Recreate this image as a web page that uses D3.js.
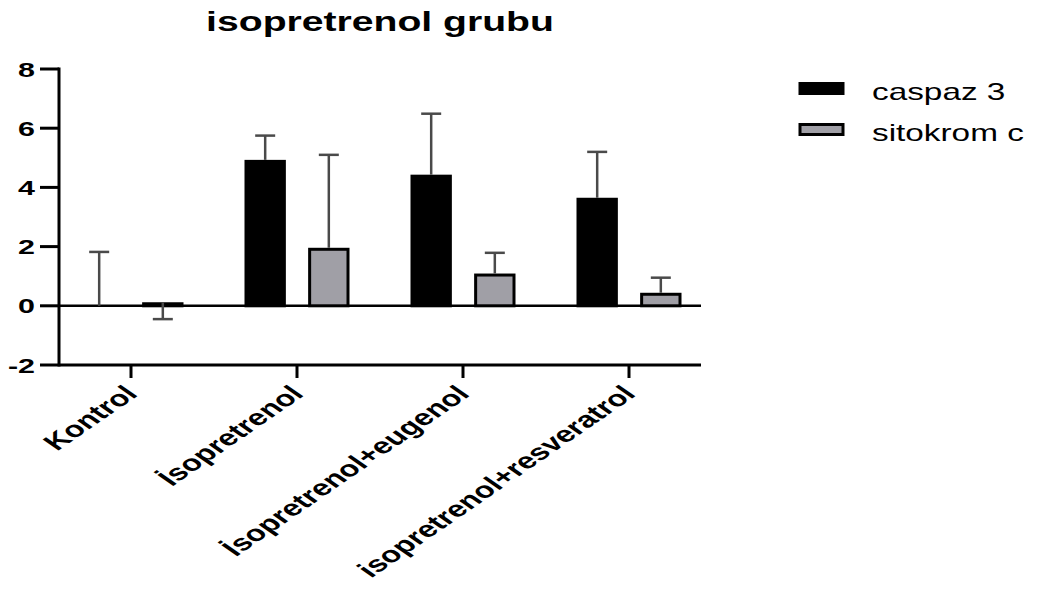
<!DOCTYPE html>
<html lang="en">
<head>
  <meta charset="UTF-8">
  <title>isopretrenol grubu</title>
  <script src="https://d3js.org/d3.v7.min.js"></script>
  <style>
    body { margin: 0; background: #fff; }
    text { font-family: "Liberation Sans", Arial, sans-serif; }
  </style>
</head>
<body>
  <div id="chart"></div>
  <script>
    const width = 1041, height = 590;
    const sx = 1.45; // the picture is stretched sideways, text too

    // data
    const groups = ["Kontrol", "İsopretrenol", "İsopretrenol+eugenol", "isopretrenol+resveratrol"];
    const series = ["caspaz 3", "sitokrom c"];
    const caspaz = [0, 4.93, 4.43, 3.65];
    const caspazErrEnd = [1.82, 5.75, 6.49, 5.2];
    const sitokrom = [0.12, 1.96, 1.09, 0.44];
    const sitokromErrEnd = [-0.45, 5.1, 1.79, 0.95];
    const yTicks = [-2, 0, 2, 4, 6, 8];
    const colors = {"caspaz 3": "#000", "sitokrom c": "#a09fa6"};

    const rows = [];
    groups.forEach((g, i) => {
      rows.push({group: g, s: "caspaz 3", v: caspaz[i], e: caspazErrEnd[i]});
      rows.push({group: g, s: "sitokrom c", v: sitokrom[i], e: sitokromErrEnd[i]});
    });

    const svg = d3.select("#chart").append("svg")
        .attr("width", width)
        .attr("height", height);

    const x0 = d3.scaleBand().domain(groups).range([48, 712]);
    const x1 = d3.scaleBand().domain(series).range([-52.5, 52.5]).paddingInner(0.35);
    const y = d3.scaleLinear().domain([-2, 8]).range([365, 69]);

    const axisLeft = 59, axisRight = 701;

    function stretchedText(g, x, yy, str, opts) {
      return g.append("text")
        .attr("transform", `translate(${x},${yy}) scale(${sx},1)` + (opts.rotate ? ` rotate(${opts.rotate})` : ""))
        .attr("text-anchor", opts.anchor || "start")
        .attr("font-size", opts.size)
        .attr("font-weight", opts.weight || "normal")
        .attr("fill", "#000")
        .text(str);
    }

    // title
    stretchedText(svg, 380, 31, "isopretrenol grubu", {anchor: "middle", size: 27, weight: "bold"});

    // zero line
    svg.append("line")
      .attr("x1", axisLeft).attr("x2", axisRight)
      .attr("y1", y(0)).attr("y2", y(0))
      .attr("stroke", "#000").attr("stroke-width", 2.5);

    // bars
    const bw = x1.bandwidth();
    svg.append("g").selectAll("rect")
      .data(rows.filter(d => d.v !== 0))
      .join("rect")
      .attr("x", d => x0(d.group) + x0.bandwidth() / 2 + x1(d.s) + 1.5)
      .attr("width", bw - 3)
      .attr("y", d => Math.min(y(d.v), y(0)) + 1.5)
      .attr("height", d => Math.max(Math.abs(y(d.v) - y(0)) - 1.5, 1))
      .attr("fill", d => colors[d.s])
      .attr("stroke", "#000")
      .attr("stroke-width", 3);

    // error bars
    const eg = svg.append("g").attr("stroke", "#4a4a4a").attr("stroke-width", 2.5);
    rows.forEach(d => {
      const cx = x0(d.group) + x0.bandwidth() / 2 + x1(d.s) + bw / 2;
      eg.append("line").attr("x1", cx).attr("x2", cx)
        .attr("y1", y(d.v)).attr("y2", y(d.e));
      eg.append("line").attr("x1", cx - 10).attr("x2", cx + 10)
        .attr("y1", y(d.e)).attr("y2", y(d.e));
    });

    // y axis
    const ya = svg.append("g");
    ya.append("line")
      .attr("x1", axisLeft).attr("x2", axisLeft)
      .attr("y1", y(8) - 1.5).attr("y2", y(-2) + 1.5)
      .attr("stroke", "#000").attr("stroke-width", 3);
    yTicks.forEach(t => {
      ya.append("line")
        .attr("x1", axisLeft - 19).attr("x2", axisLeft)
        .attr("y1", y(t)).attr("y2", y(t))
        .attr("stroke", "#000").attr("stroke-width", 3);
      stretchedText(ya, axisLeft - 24, y(t) + 7.5, String(t), {anchor: "end", size: 21, weight: "bold"});
    });

    // x axis
    const xa = svg.append("g");
    xa.append("line")
      .attr("x1", axisLeft).attr("x2", axisRight)
      .attr("y1", y(-2)).attr("y2", y(-2))
      .attr("stroke", "#000").attr("stroke-width", 3);
    groups.forEach(g => {
      const cx = x0(g) + x0.bandwidth() / 2;
      xa.append("line")
        .attr("x1", cx).attr("x2", cx)
        .attr("y1", y(-2)).attr("y2", y(-2) + 13)
        .attr("stroke", "#000").attr("stroke-width", 3);
      stretchedText(xa, cx + 8, y(-2) + 30, g, {anchor: "end", size: 22.5, weight: "bold", rotate: -45});
    });

    // legend
    const lg = svg.append("g");
    series.forEach((s, i) => {
      const ly = 82 + i * 41;
      lg.append("rect")
        .attr("x", 800).attr("y", ly + 1.5)
        .attr("width", 43).attr("height", 10)
        .attr("fill", colors[s]).attr("stroke", "#000").attr("stroke-width", 3);
      stretchedText(lg, 872, ly + 18, s, {size: 23});
    });
  </script>
</body>
</html>
